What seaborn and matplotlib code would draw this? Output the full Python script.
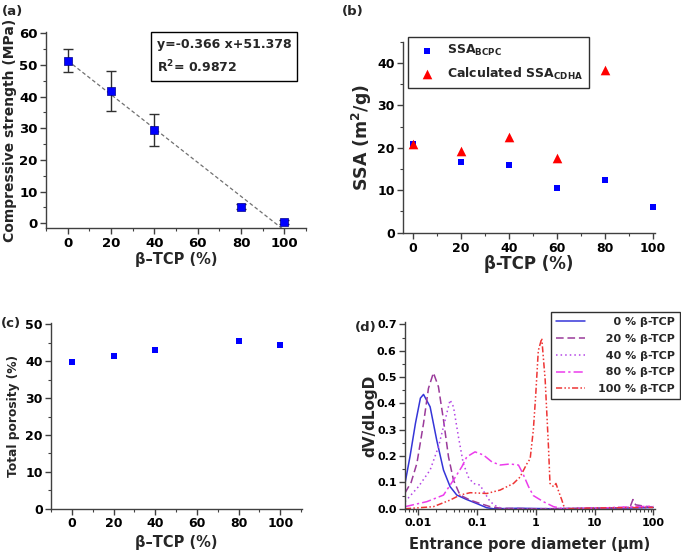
import matplotlib
matplotlib.use("Agg")
import matplotlib.pyplot as plt
import numpy as np
import seaborn as sns
from matplotlib.ticker import MultipleLocator, FixedLocator, LogLocator, NullFormatter

# (a) compressive strength
a_tcp = [0, 20, 40, 80, 100]
a_strength = [51.4, 41.8, 29.4, 5.2, 0.4]
a_err = [3.5, 6.4, 5.0, 0.8, 0.5]
a_fit_text = "y=-0.366 x+51.378\nR$^{\\mathbf{2}}$= 0.9872"

# (b) specific surface area
b_tcp = [0, 20, 40, 60, 80, 100]
b_ssa_bcpc = [21.0, 16.7, 15.9, 10.5, 12.3, 6.0]
b_tcp_cdha = [0, 20, 40, 60, 80]
b_ssa_cdha = [20.9, 19.3, 22.5, 17.5, 38.3]
b_labels = ["SSA$_{\\mathbf{BCPC}}$", "Calculated SSA$_{\\mathbf{CDHA}}$"]

# (c) total porosity
c_tcp = [0, 20, 40, 80, 100]
c_porosity = [39.8, 41.5, 43.0, 45.5, 44.5]

# (d) pore size distribution
d_pct = [0, 20, 40, 80, 100]
d_x0 = [0.0059, 0.0072, 0.0089, 0.0108, 0.0122, 0.0158, 0.0205, 0.0267, 0.0346,
        0.045, 0.0665, 0.098, 0.146, 0.19, 0.5, 2, 10, 50, 100]
d_y0 = [0.096, 0.2, 0.325, 0.42, 0.434, 0.387, 0.26, 0.147, 0.084,
        0.052, 0.035, 0.02, 0.004, 0.0, 0.002, 0.0, 0.002, 0.003, 0.005]
d_x20 = [0.0059, 0.0075, 0.0094, 0.0122, 0.0148, 0.018, 0.0219, 0.0267, 0.0325, 0.0395,
         0.051, 0.076, 0.112, 0.167, 0.25, 1, 10, 40, 45, 50, 100]
d_y20 = [0.06, 0.1, 0.172, 0.324, 0.457, 0.516, 0.463, 0.337, 0.197, 0.109,
         0.052, 0.033, 0.02, 0.008, 0.002, 0.0, 0.002, 0.005, 0.035, 0.015, 0.005]
d_x40 = [0.0059, 0.010, 0.0158, 0.0219, 0.0285, 0.0346, 0.0395, 0.048, 0.058, 0.071,
         0.086, 0.112, 0.136, 0.167, 0.216, 0.28, 1, 10, 100]
d_y40 = [0.027, 0.084, 0.147, 0.235, 0.337, 0.413, 0.387, 0.273, 0.172, 0.12,
         0.096, 0.09, 0.058, 0.027, 0.008, 0.0, 0.0, 0.003, 0.008]
d_x80 = [0.0059, 0.0139, 0.0267, 0.0395, 0.055, 0.0665, 0.092, 0.128, 0.178, 0.246,
         0.363, 0.505, 0.6, 0.75, 0.906, 1.34, 2.0, 3, 10, 100]
d_y80 = [0.008, 0.027, 0.052, 0.109, 0.16, 0.197, 0.216, 0.204, 0.178, 0.166,
         0.17, 0.166, 0.134, 0.084, 0.05, 0.027, 0.008, 0.0, 0.002, 0.01]
d_x100 = [0.0059, 0.018, 0.0346, 0.051, 0.076, 0.146, 0.246, 0.415, 0.536, 0.70,
          0.80, 0.906, 0.99, 1.10, 1.26, 1.44, 1.64, 1.74, 2.0, 2.2, 2.4, 2.77, 3.1, 10, 100]
d_y100 = [0.0, 0.008, 0.033, 0.052, 0.061, 0.058, 0.071, 0.096, 0.12, 0.17,
          0.19, 0.3, 0.425, 0.6, 0.647, 0.49, 0.235, 0.096, 0.084, 0.096, 0.071, 0.033, 0.0, 0.003, 0.005]
d_xticks = [0.01, 0.1, 1, 10, 100]
d_xticklabels = ["0.01", "0.1", "1", "10", "100"]

sns.set_style("ticks")
plt.rcParams["font.family"] = ["DejaVu Sans"]
plt.rcParams["font.weight"] = "bold"
plt.rcParams["axes.labelweight"] = "bold"
plt.rcParams["mathtext.fontset"] = "dejavusans"
plt.rcParams["axes.edgecolor"] = "#404040"
plt.rcParams["axes.linewidth"] = 1.0
plt.rcParams["xtick.color"] = "#404040"
plt.rcParams["ytick.color"] = "#404040"
plt.rcParams["xtick.labelcolor"] = "black"
plt.rcParams["ytick.labelcolor"] = "black"

W, H = 681, 552
fig = plt.figure(figsize=(W / 100, H / 100), dpi=100)


def px_axes(l, t, r, b):
    return fig.add_axes([l / W, 1 - b / H, (r - l) / W, (b - t) / H])


def style(ax, tick_fs, xlabel, ylabel, xl_fs, yl_fs, xl_y, yl_x):
    sns.despine(ax=ax)
    ax.tick_params(which="major", direction="out", length=4, width=1, labelsize=tick_fs, pad=2)
    ax.tick_params(which="minor", direction="out", length=2.2, width=0.8)
    ax.set_xlabel(xlabel, fontsize=xl_fs)
    ax.set_ylabel(ylabel, fontsize=yl_fs)
    ax.xaxis.label.set_va("center")
    ax.yaxis.label.set_va("center")
    ax.xaxis.set_label_coords(0.5, xl_y)
    ax.yaxis.set_label_coords(yl_x, 0.5)
    for t in ax.get_xticklabels() + ax.get_yticklabels():
        t.set_fontweight("bold")


blue = "#0000ff"

# ---- (a)
ax = px_axes(46, 31.7, 306, 228.3)
sns.regplot(x=a_tcp, y=a_strength, scatter=False, ci=None, ax=ax,
            line_kws=dict(color="#707070", lw=0.9, ls=(0, (3, 2))))
ax.errorbar(a_tcp, a_strength, yerr=a_err, fmt="none", ecolor="#303030",
            elinewidth=1, capsize=3.5, capthick=1, zorder=3)
sns.scatterplot(x=a_tcp, y=a_strength, marker="s", color=blue, s=30,
                edgecolor="#00008b", linewidth=0.5, ax=ax, zorder=4)
ax.set_xlim(-10, 110)
ax.set_ylim(-1.6, 60.5)
ax.xaxis.set_major_locator(MultipleLocator(20))
ax.xaxis.set_minor_locator(MultipleLocator(10))
ax.yaxis.set_major_locator(MultipleLocator(10))
ax.yaxis.set_minor_locator(MultipleLocator(5))
style(ax, 9.5, "β–TCP (%)", "Compressive strength (MPa)", 10.5, 10, -0.161, -0.138)
ax.text(0.426, 0.873, a_fit_text, transform=ax.transAxes, ha="left", va="center",
        fontsize=9, fontweight="bold", linespacing=1.6,
        bbox=dict(boxstyle="square,pad=0.45", fc="white", ec="black", lw=1))

# ---- (b)
ax = px_axes(403, 41.7, 655, 233.3)
sns.scatterplot(x=b_tcp, y=b_ssa_bcpc, marker="s", color=blue, s=24, linewidth=0,
                ax=ax, label=b_labels[0], zorder=3)
sns.scatterplot(x=b_tcp_cdha, y=b_ssa_cdha, marker="^", color="#ff0000", s=48, linewidth=0,
                ax=ax, label=b_labels[1], zorder=3)
ax.set_xlim(-4.2, 101)
ax.set_ylim(-0.15, 45)
ax.xaxis.set_major_locator(MultipleLocator(20))
ax.xaxis.set_minor_locator(MultipleLocator(10))
ax.yaxis.set_major_locator(MultipleLocator(10))
ax.yaxis.set_minor_locator(MultipleLocator(5))
style(ax, 9, "β-TCP (%)", "SSA (m$^{\\mathbf{2}}$/g)", 12, 12.5, -0.162, -0.163)
leg = ax.legend(loc="upper left", bbox_to_anchor=(0.02, 1.025), borderaxespad=0,
                fancybox=False, edgecolor="#303030", framealpha=1, fontsize=9,
                handletextpad=0.6, labelspacing=0.6, borderpad=0.5, markerscale=1.0)
leg.get_frame().set_linewidth(1)

# ---- (c)
ax = px_axes(51, 323.3, 302, 508.7)
sns.scatterplot(x=c_tcp, y=c_porosity, marker="s", color=blue, s=24, linewidth=0, ax=ax)
ax.set_xlim(-10, 110.4)
ax.set_ylim(0, 50.3)
ax.xaxis.set_major_locator(MultipleLocator(20))
ax.xaxis.set_minor_locator(MultipleLocator(10))
ax.yaxis.set_major_locator(MultipleLocator(10))
ax.yaxis.set_minor_locator(MultipleLocator(5))
style(ax, 9, "β–TCP (%)", "Total porosity (%)", 10.5, 8.8, -0.185, -0.151)

# ---- (d)
ax = px_axes(405, 321.7, 655, 509.3)
d_series = [(d_x0, d_y0), (d_x20, d_y20), (d_x40, d_y40), (d_x80, d_y80), (d_x100, d_y100)]
d_colors = ["#3535d8", "#9a3a9a", "#b445e6", "#ec3cec", "#ee3535"]
d_dashes = ["-", (0, (5, 2.5)), (0, (1, 2)), (0, (6, 2, 1.5, 2)), (0, (4, 1.5, 1, 1.5, 1, 1.5))]
d_labels = [f"{p} % β-TCP".rjust(11, "\u2007") for p in d_pct]
for (xs, ys), col, ls, lab in zip(d_series, d_colors, d_dashes, d_labels):
    sns.lineplot(x=xs, y=ys, color=col, lw=1.1, ls=ls, ax=ax, label=lab, sort=False)
ax.set_xscale("log")
ax.set_xlim(0.0059, 107)
ax.set_ylim(-0.002, 0.71)
ax.xaxis.set_major_locator(FixedLocator(d_xticks))
ax.set_xticklabels(d_xticklabels)
ax.xaxis.set_minor_locator(LogLocator(base=10, subs=np.arange(2, 10)))
ax.xaxis.set_minor_formatter(NullFormatter())
ax.yaxis.set_major_locator(MultipleLocator(0.1))
ax.yaxis.set_minor_locator(MultipleLocator(0.05))
ax.yaxis.set_major_formatter(matplotlib.ticker.FormatStrFormatter("%.1f"))
style(ax, 8, "Entrance pore diameter (μm)", "dV/dLogD", 10.5, 11, -0.185, -0.14)
leg = ax.legend(loc="upper right", bbox_to_anchor=(1.10, 1.053), borderaxespad=0,
                fancybox=False, edgecolor="#303030", framealpha=1, fontsize=8,
                handlelength=2.6, handletextpad=1.2, labelspacing=0.62, borderpad=0.45)
leg.get_frame().set_linewidth(1)

# panel letters
for txt, x, y in [("(a)", 2, 12), ("(b)", 342, 11), ("(c)", 1, 324), ("(d)", 355, 327)]:
    fig.text(x / W, 1 - y / H, txt, ha="left", va="center", fontsize=9.5, fontweight="bold")

fig.savefig("out.png", dpi=100)
